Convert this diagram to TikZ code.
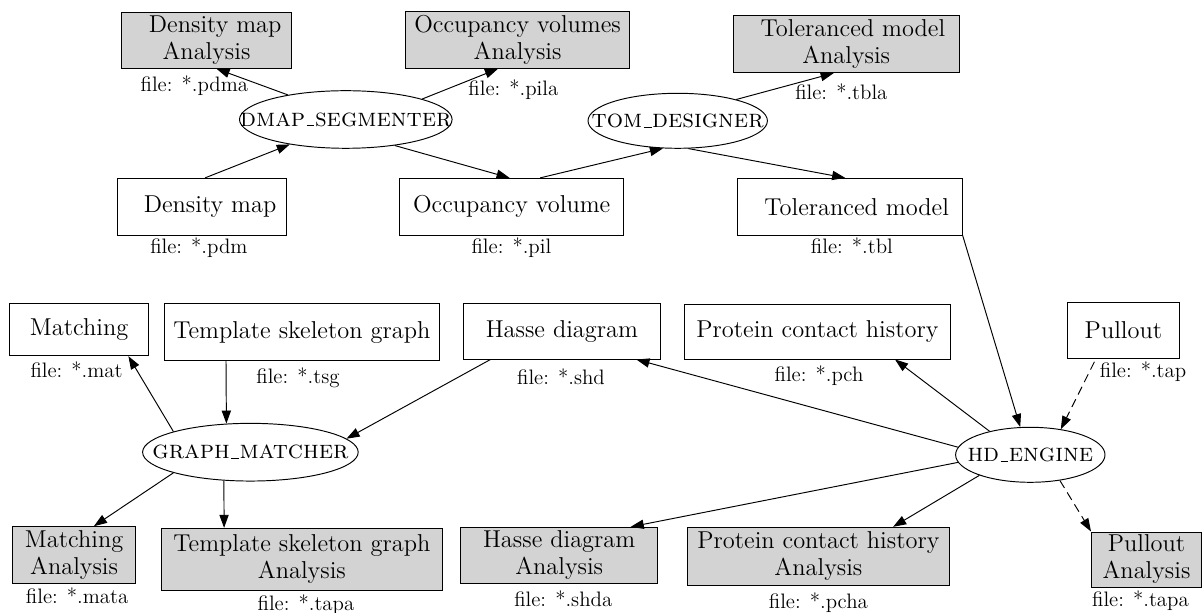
\documentclass[tikz,border=0pt]{standalone}
\usetikzlibrary{arrows.meta,calc,shapes.geometric}
\newcommand\pxu{0.5737pt}
\newcommand\usc{\leavevmode\kern.06em\vbox{\hrule width.3em height0.4pt}\kern.02em}
\definecolor{boxgray}{HTML}{D3D3D3}
\tikzset{
  proc/.style={ellipse, draw, line width=0.55pt, inner sep=0pt, font=\fontsize{14.7}{16}\selectfont\scshape},
  filebox/.style={rectangle, draw, line width=0.55pt, inner sep=0pt, align=center, font=\fontsize{14}{15.5}\selectfont},
  anabox/.style={filebox, fill=boxgray},
  lbl/.style={anchor=base, inner sep=0pt, font=\fontsize{12}{14}\selectfont},
  edge/.style={-{Triangle[length=7.5pt,width=5.3pt]}, line width=0.55pt},
  dedge/.style={edge, dash pattern=on 5pt off 3pt},
  sz/.style 2 args={minimum width=#1*\pxu, minimum height=#2*\pxu}
}
\begin{document}
\begin{tikzpicture}[x=\pxu, y=-\pxu]
\useasboundingbox (0,0) rectangle (1202,613);
% top row analysis boxes
\node[anabox, sz={169.4}{56}] (dma) at (206.5,40.3) {\hspace*{10pt}Density map\\Analysis};
\node[anabox, sz={224.5}{56.6}] (ova) at (517.6,40) {Occupancy volumes\\Analysis};
\node[anabox, sz={225.7}{56.7}] (tma) at (846.2,44.3) {\hspace*{7.7pt}Toleranced model\\Analysis};
% processes
\node[proc, sz={212.6}{57.6}] (dmap) at (345.8,119.5) {\makebox[0pt]{dmap\usc segmenter}};
\node[proc, sz={179.4}{55}] (tom) at (677.7,120.8) {\makebox[0pt]{tom\usc designer}};
\node[proc, sz={215.6}{57.7}] (gm) at (250.4,452.2) {\makebox[0pt]{graph\usc matcher}};
\node[proc, sz={149.4}{55}] (hd) at (1030.3,454.8) {\makebox[0pt]{hd\usc engine}};
% data boxes
\node[filebox, sz={169}{56.7}] (dm) at (202.1,206.7) {\hspace*{9.2pt}Density map};
\node[filebox, sz={224.2}{56.7}] (ov) at (511.7,206.7) {Occupancy volume};
\node[filebox, sz={225}{56.7}] (tm) at (849.7,206.7) {\hspace*{8pt}Toleranced model};
\node[filebox, sz={139}{52.4}] (mat) at (79.1,329.5) {Matching};
\node[filebox, sz={275.5}{56.7}] (tsg) at (301.8,332.3) {Template skeleton graph};
\node[filebox, sz={196.6}{55.7}] (hasse) at (561.9,331.2) {Hasse diagram};
\node[filebox, sz={266.3}{55}] (pch) at (817.4,331.5) {Protein contact history};
\node[filebox, sz={111.9}{56}] (pull) at (1123.4,330.3) {Pullout};
% bottom analysis boxes
\node[anabox, sz={123.7}{56.7}] (mata) at (74.1,555) {Matching\\Analysis};
\node[anabox, sz={281.2}{61.7}] (tsga) at (301.9,559.2) {Template skeleton graph\\Analysis};
\node[anabox, sz={196.6}{56}] (hda) at (559.2,555.3) {Hasse diagram\\Analysis};
\node[anabox, sz={262}{58.4}] (pcha) at (818.4,556.5) {Protein contact history\\Analysis};
\node[anabox, sz={110}{55}] (pa) at (1146.5,559.5) {Pullout\\Analysis};
% file labels
\node[lbl] (lpdma) at (194.4,91.7) {file: *.pdma};
\node[lbl] (lpila) at (513.4,96) {file: *.pila};
\node[lbl] (ltbla) at (841.4,100) {file: *.tbla};
\node[lbl] (lpdm) at (198.9,254) {file: *.pdm};
\node[lbl] (lpil) at (511.4,254) {file: *.pil};
\node[lbl] (ltbl) at (851.9,254) {file: *.tbl};
\node[lbl] (lmat) at (76.6,378) {file: *.mat};
\node[lbl] (ltsg) at (298,384) {file: *.tsg};
\node[lbl] (lshd) at (561,384.5) {file: *.shd};
\node[lbl] (lpch) at (819,381.7) {file: *.pch};
\node[lbl] (ltap) at (1143.1,377.3) {file: *.tap};
\node[lbl] (lmata) at (77.2,603.3) {file: *.mata};
\node[lbl] (ltapa) at (306,610.5) {file: *.tapa};
\node[lbl] (lshda) at (563.3,606) {file: *.shda};
\node[lbl] (lpcha) at (818.4,608.3) {file: *.pcha};
\node[lbl] (ltapb) at (1140.5,606) {file: *.tapa};
% edges
\draw[edge] (dmap.157) -- ($(dma.south)+(10,0)$);
\draw[edge] (dmap.15) -- ($(ova.south)+(-19.6,0)$);
\draw[edge] ($(dm.north)+(3,0)$) -- (dmap.204);
\draw[edge] (dmap.332) -- ($(ov.north)+(-2.1,0)$);
\draw[edge] ($(ov.north)+(28.5,0)$) -- (tom.242);
\draw[edge] (tom.20) -- ($(tma.south)+(-12.5,0)$);
\draw[edge] (tom.291) -- ($(tm.north)+(-4.5,0)$);
\draw[edge] (tm.south east) -- (hd.110);
\draw[dedge] ($(pull.south)+(-29,3)$) -- (hd.40);
\draw[edge] (hd.150) -- ($(pch.south)+(77.6,0)$);
\draw[edge] (hd.174) -- ($(hasse.south)+(74.5,0)$);
\draw[edge] (hd.186) -- ($(hda.north)+(71.5,0)$);
\draw[edge] (hd.202) -- ($(pcha.north)+(74.7,0)$);
\draw[dedge] (hd.319) -- (pa.north west);
\draw[edge] ($(hasse.south)+(-71.5,0)$) -- (gm.8);
\draw[edge] ($(tsg.south)+(-75.8,0)$) -- (gm.130);
\draw[edge] (gm.165) -- ($(mat.south)+(49.3,0)$);
\draw[edge] (gm.195) -- ($(mata.north)+(19.8,0)$);
\draw[edge] (gm.227) -- ($(tsga.north)+(-77.8,0)$);
\end{tikzpicture}
\end{document}
